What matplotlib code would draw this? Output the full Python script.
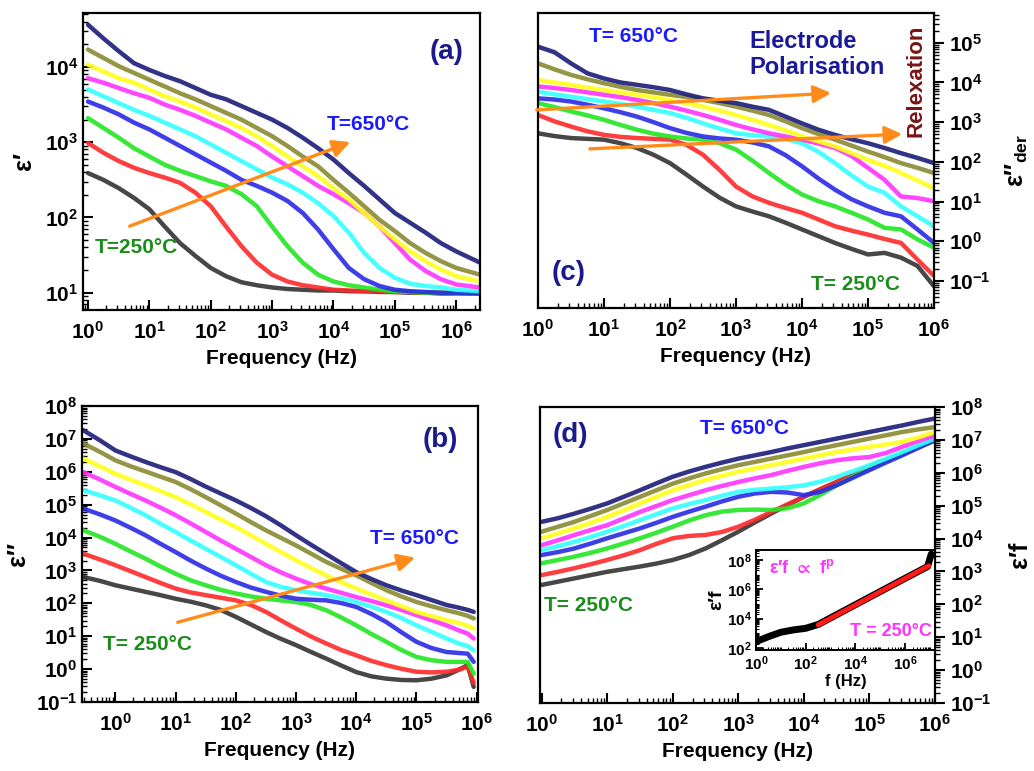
import numpy as np
import matplotlib.pyplot as plt
from matplotlib.ticker import LogLocator, NullFormatter, FixedLocator

plt.rcParams['font.family'] = ['Liberation Sans', 'DejaVu Sans']
plt.rcParams['font.weight'] = 'bold'
plt.rcParams['axes.labelweight'] = 'bold'
plt.rcParams['mathtext.default'] = 'regular'

# temperatures (deg C) and curve colours, low -> high
temps = [250, 300, 350, 400, 450, 500, 550, 600, 650]
colors = ['#333333', '#ff2a2a', '#22e622', '#2a2ae6', '#33ffff',
          '#ff33ff', '#ffff1a', '#8a8a32', '#1c1c7a']

# all values below are log10 values
# (a) eps' vs frequency
logf_a = [0, 0.25, 0.5, 0.75, 1, 1.25, 1.5, 1.75, 2, 2.25, 2.5, 2.75, 3,
          3.25, 3.5, 3.75, 4, 4.25, 4.5, 4.75, 5, 5.25, 5.5, 5.75, 6, 6.39]
eps_real = [
    [2.59, 2.50, 2.39, 2.26, 2.11, 1.88, 1.66, 1.49, 1.33, 1.22, 1.14, 1.10, 1.07,
     1.05, 1.04, 1.03, 1.03, 1.02, 1.02, 1.01, 1.01, 1.00, 1.00, 0.99, 0.99, 0.99],
    [2.99, 2.86, 2.75, 2.66, 2.59, 2.53, 2.46, 2.33, 2.15, 1.88, 1.62, 1.40, 1.24,
     1.15, 1.10, 1.07, 1.04, 1.03, 1.02, 1.02, 1.01, 1.01, 1.00, 1.00, 0.99, 0.99],
    [3.32, 3.19, 3.06, 2.92, 2.81, 2.70, 2.62, 2.55, 2.48, 2.42, 2.31, 2.15, 1.88,
     1.62, 1.40, 1.24, 1.15, 1.10, 1.07, 1.04, 1.02, 1.01, 1.00, 1.00, 0.99, 0.99],
    [3.54, 3.46, 3.37, 3.26, 3.17, 3.06, 2.95, 2.84, 2.73, 2.62, 2.50, 2.42, 2.33,
     2.22, 2.06, 1.84, 1.58, 1.33, 1.18, 1.09, 1.04, 1.02, 1.01, 1.00, 1.00, 0.99],
    [3.70, 3.61, 3.52, 3.43, 3.35, 3.26, 3.17, 3.08, 2.97, 2.86, 2.75, 2.64, 2.53,
     2.44, 2.33, 2.19, 2.02, 1.80, 1.53, 1.33, 1.20, 1.12, 1.09, 1.07, 1.04, 1.02],
    [3.85, 3.79, 3.72, 3.65, 3.59, 3.50, 3.43, 3.35, 3.26, 3.17, 3.06, 2.95, 2.81,
     2.68, 2.55, 2.42, 2.31, 2.19, 2.06, 1.88, 1.66, 1.44, 1.29, 1.18, 1.11, 1.07],
    [4.03, 3.94, 3.85, 3.79, 3.70, 3.61, 3.54, 3.46, 3.37, 3.28, 3.19, 3.08, 2.95,
     2.81, 2.68, 2.55, 2.39, 2.24, 2.06, 1.88, 1.71, 1.55, 1.42, 1.31, 1.22, 1.15],
    [4.23, 4.12, 4.01, 3.92, 3.83, 3.74, 3.65, 3.57, 3.48, 3.39, 3.30, 3.19, 3.08,
     2.95, 2.81, 2.68, 2.50, 2.33, 2.15, 1.97, 1.82, 1.66, 1.53, 1.42, 1.33, 1.24],
    [4.56, 4.38, 4.21, 4.05, 3.96, 3.88, 3.81, 3.72, 3.63, 3.57, 3.48, 3.39, 3.30,
     3.19, 3.06, 2.92, 2.77, 2.59, 2.42, 2.24, 2.06, 1.93, 1.80, 1.66, 1.55, 1.40],
]

# (b) eps'' vs frequency
logf_b = [-0.53, -0.25, 0, 0.25, 0.5, 0.75, 1, 1.25, 1.5, 1.75, 2, 2.25, 2.5, 2.75,
          3, 3.25, 3.5, 3.75, 4, 4.25, 4.5, 4.75, 5, 5.25, 5.5, 5.7, 5.85, 5.95]
eps_imag = [
    [2.80, 2.68, 2.55, 2.45, 2.35, 2.25, 2.14, 2.05, 1.94, 1.80, 1.59, 1.36, 1.13, 0.92,
     0.73, 0.52, 0.32, 0.11, -0.09, -0.22, -0.29, -0.33, -0.34, -0.29, -0.19, -0.02, 0.12, -0.54],
    [3.51, 3.33, 3.16, 2.98, 2.80, 2.62, 2.45, 2.33, 2.25, 2.17, 2.09, 1.95, 1.74, 1.48,
     1.23, 0.99, 0.78, 0.58, 0.42, 0.25, 0.12, 0.01, -0.08, -0.10, -0.08, -0.02, 0.07, -0.42],
    [4.22, 4.02, 3.81, 3.58, 3.36, 3.12, 2.90, 2.70, 2.55, 2.41, 2.30, 2.21, 2.14, 2.09,
     2.04, 1.95, 1.79, 1.57, 1.33, 1.07, 0.83, 0.58, 0.37, 0.27, 0.22, 0.22, 0.22, -0.14],
    [4.88, 4.70, 4.52, 4.30, 4.07, 3.81, 3.56, 3.30, 3.06, 2.84, 2.65, 2.48, 2.35, 2.23,
     2.14, 2.11, 2.09, 2.01, 1.89, 1.68, 1.43, 1.12, 0.83, 0.64, 0.52, 0.49, 0.47, 0.22],
    [5.44, 5.28, 5.13, 4.91, 4.68, 4.42, 4.17, 3.91, 3.66, 3.41, 3.16, 2.90, 2.65, 2.50,
     2.40, 2.32, 2.25, 2.16, 2.04, 1.90, 1.74, 1.55, 1.33, 1.13, 0.93, 0.78, 0.70, 0.57],
    [5.99, 5.76, 5.54, 5.33, 5.13, 4.91, 4.68, 4.43, 4.17, 3.91, 3.66, 3.41, 3.16, 2.94,
     2.75, 2.58, 2.45, 2.32, 2.19, 2.07, 1.94, 1.80, 1.64, 1.49, 1.33, 1.18, 1.08, 0.93],
    [6.40, 6.16, 5.94, 5.76, 5.59, 5.41, 5.23, 5.01, 4.78, 4.55, 4.32, 4.07, 3.81, 3.56,
     3.31, 3.07, 2.85, 2.64, 2.45, 2.27, 2.09, 1.91, 1.74, 1.61, 1.49, 1.40, 1.32, 1.23],
    [6.86, 6.60, 6.35, 6.17, 6.01, 5.85, 5.69, 5.47, 5.23, 4.98, 4.73, 4.47, 4.22, 3.99,
     3.76, 3.51, 3.26, 3.05, 2.85, 2.62, 2.40, 2.21, 2.04, 1.91, 1.79, 1.70, 1.62, 1.54],
    [7.26, 6.95, 6.65, 6.47, 6.30, 6.14, 5.99, 5.78, 5.55, 5.34, 5.13, 4.90, 4.65, 4.37,
     4.07, 3.78, 3.50, 3.22, 2.95, 2.74, 2.55, 2.39, 2.25, 2.10, 1.95, 1.87, 1.80, 1.74],
]

# (c) eps''_der vs frequency
logf_c = [0, 0.25, 0.5, 0.75, 1, 1.25, 1.5, 1.75, 2, 2.25, 2.5, 2.75, 3,
          3.25, 3.5, 3.75, 4, 4.25, 4.5, 4.75, 5, 5.25, 5.5, 5.75, 6]
eps_der = [
    [2.72, 2.65, 2.60, 2.58, 2.56, 2.47, 2.35, 2.18, 1.97, 1.68, 1.38, 1.10, 0.88,
     0.75, 0.63, 0.47, 0.30, 0.13, -0.04, -0.19, -0.33, -0.29, -0.41, -0.62, -1.13],
    [3.18, 3.02, 2.89, 2.77, 2.68, 2.63, 2.60, 2.58, 2.56, 2.43, 2.18, 1.80, 1.38,
     1.13, 0.97, 0.84, 0.72, 0.55, 0.38, 0.27, 0.17, 0.06, -0.04, -0.46, -0.87],
    [3.48, 3.38, 3.27, 3.17, 3.06, 2.93, 2.81, 2.71, 2.64, 2.59, 2.56, 2.47, 2.31,
     2.03, 1.72, 1.43, 1.18, 1.01, 0.88, 0.72, 0.55, 0.34, 0.30, 0.05, -0.16],
    [3.60, 3.57, 3.52, 3.44, 3.35, 3.25, 3.14, 3.00, 2.85, 2.73, 2.64, 2.59, 2.56,
     2.49, 2.39, 2.17, 1.89, 1.58, 1.30, 1.06, 0.88, 0.72, 0.63, 0.30, -0.04],
    [3.77, 3.70, 3.64, 3.58, 3.52, 3.46, 3.39, 3.31, 3.23, 3.11, 2.97, 2.84, 2.72,
     2.67, 2.64, 2.58, 2.47, 2.25, 1.97, 1.66, 1.38, 1.22, 0.88, 0.63, 0.38],
    [3.90, 3.86, 3.81, 3.75, 3.69, 3.63, 3.56, 3.48, 3.39, 3.29, 3.18, 3.06, 2.93,
     2.82, 2.72, 2.64, 2.56, 2.46, 2.35, 2.15, 1.85, 1.55, 1.13, 1.09, 1.01],
    [4.06, 4.00, 3.94, 3.87, 3.81, 3.75, 3.69, 3.63, 3.56, 3.48, 3.39, 3.29, 3.18,
     3.06, 2.93, 2.79, 2.64, 2.52, 2.39, 2.22, 2.05, 1.90, 1.72, 1.53, 1.34],
    [4.48, 4.33, 4.19, 4.08, 3.98, 3.89, 3.81, 3.75, 3.69, 3.63, 3.56, 3.48, 3.39,
     3.29, 3.18, 3.02, 2.85, 2.70, 2.56, 2.41, 2.26, 2.12, 1.97, 1.85, 1.72],
    [4.90, 4.76, 4.48, 4.23, 4.10, 4.00, 3.94, 3.88, 3.81, 3.70, 3.60, 3.54, 3.48,
     3.39, 3.31, 3.14, 2.97, 2.81, 2.68, 2.57, 2.47, 2.35, 2.22, 2.10, 1.97],
]

# (d) eps' * f vs frequency
logf_d = [0, 0.25, 0.5, 0.75, 1, 1.25, 1.5, 1.75, 2, 2.25, 2.5, 2.75, 3,
          3.25, 3.5, 3.75, 4, 4.25, 4.5, 4.75, 5, 5.25, 5.5, 5.75, 6]
eps_f = [
    [2.59, 2.69, 2.79, 2.89, 2.99, 3.07, 3.15, 3.24, 3.35, 3.50, 3.70, 3.95, 4.21,
     4.49, 4.76, 5.02, 5.27, 5.50, 5.72, 5.95, 6.18, 6.38, 6.58, 6.79, 6.99],
    [2.89, 2.99, 3.10, 3.22, 3.35, 3.49, 3.65, 3.84, 4.01, 4.08, 4.11, 4.20, 4.36,
     4.57, 4.81, 5.04, 5.27, 5.50, 5.72, 5.95, 6.18, 6.38, 6.58, 6.79, 6.99],
    [3.25, 3.35, 3.45, 3.57, 3.70, 3.85, 4.01, 4.18, 4.36, 4.55, 4.71, 4.82, 4.87,
     4.88, 4.87, 4.92, 5.07, 5.33, 5.62, 5.88, 6.13, 6.36, 6.58, 6.79, 6.99],
    [3.50, 3.59, 3.70, 3.85, 4.01, 4.16, 4.31, 4.48, 4.66, 4.82, 4.97, 5.13, 5.27,
     5.37, 5.42, 5.40, 5.32, 5.42, 5.62, 5.85, 6.08, 6.31, 6.53, 6.76, 6.99],
    [3.65, 3.77, 3.90, 4.05, 4.21, 4.38, 4.56, 4.74, 4.92, 5.05, 5.17, 5.30, 5.42,
     5.48, 5.52, 5.56, 5.62, 5.73, 5.88, 6.05, 6.23, 6.43, 6.63, 6.84, 7.04],
    [3.80, 3.95, 4.11, 4.26, 4.41, 4.61, 4.81, 4.99, 5.17, 5.32, 5.47, 5.60, 5.72,
     5.83, 5.93, 6.06, 6.18, 6.29, 6.38, 6.44, 6.48, 6.60, 6.79, 6.97, 7.14],
    [4.01, 4.16, 4.31, 4.48, 4.66, 4.86, 5.07, 5.27, 5.47, 5.63, 5.78, 5.91, 6.03,
     6.13, 6.23, 6.33, 6.43, 6.53, 6.63, 6.71, 6.79, 6.86, 6.94, 7.08, 7.24],
    [4.21, 4.36, 4.51, 4.69, 4.87, 5.07, 5.27, 5.47, 5.67, 5.83, 5.98, 6.11, 6.23,
     6.33, 6.43, 6.53, 6.63, 6.74, 6.84, 6.94, 7.04, 7.14, 7.24, 7.32, 7.39],
    [4.51, 4.62, 4.76, 4.91, 5.07, 5.27, 5.47, 5.68, 5.88, 6.04, 6.18, 6.31, 6.43,
     6.53, 6.63, 6.74, 6.84, 6.94, 7.04, 7.14, 7.24, 7.34, 7.44, 7.55, 7.65],
]

# inset: T = 250 C with power-law fit
logf_in = [0, 0.5, 1, 1.5, 2, 2.5, 3, 4, 5, 6, 6.9, 7.05]
epsf_in = [2.43, 2.77, 3.07, 3.23, 3.34, 3.60, 4.05, 4.95, 5.85, 6.75, 7.55, 8.40]
logf_fit = [2.5, 6.95]
epsf_fit = [3.57, 7.60]

# decade ticks shown on each panel (exponents)
xdec = list(range(0, 7))
ydec_a = list(range(1, 5))
ydec_b = list(range(-1, 9))
ydec_c = list(range(-1, 6))
ydec_d = list(range(-1, 9))

orange = '#ff8c1a'
W, H = 1034, 771
fig = plt.figure(figsize=(W / 100, H / 100), dpi=100)


def box(x0, y0, x1, y1):
    return [x0 / W, 1 - y1 / H, (x1 - x0) / W, (y1 - y0) / H]


def style(ax, ydec, right=False, fs=15):
    ax.set_xscale('log')
    ax.set_yscale('log')
    for s in ax.spines.values():
        s.set_linewidth(1.6)
    ax.xaxis.set_major_locator(FixedLocator([10.0 ** e for e in xdec]))
    ax.yaxis.set_major_locator(FixedLocator([10.0 ** e for e in ydec]))
    for axis in (ax.xaxis, ax.yaxis):
        axis.set_minor_locator(LogLocator(base=10, subs=np.arange(2, 10), numticks=200))
        axis.set_minor_formatter(NullFormatter())
    ax.tick_params(axis='x', which='both', direction='in', top=False, labelsize=fs, pad=8)
    ax.tick_params(which='major', length=7, width=1.5)
    ax.tick_params(which='minor', length=3.5, width=1.0)
    if right:
        ax.yaxis.tick_right()
        ax.yaxis.set_label_position('right')
        ax.tick_params(axis='y', which='both', direction='out', left=False, labelsize=fs)
    else:
        ax.tick_params(axis='y', which='both', direction='in', right=False, labelsize=fs)


def curves(ax, logf, data, lw=3.2):
    f = 10 ** np.array(logf)
    for vals, c in zip(data, colors):
        ax.plot(f, 10 ** np.array(vals), color=c, lw=lw, solid_capstyle='round',
                solid_joinstyle='round', alpha=0.9)


def arrow(ax, p0, p1):
    ax.annotate('', xy=p1, xytext=p0, xycoords='axes fraction', textcoords='axes fraction',
                arrowprops=dict(arrowstyle='-|>', color=orange, lw=2.4, mutation_scale=26),
                annotation_clip=False)


def label(ax, x, y, s, color, fs=15, **kw):
    ax.text(x, y, s, transform=ax.transAxes, color=color, fontsize=fs,
            fontweight='bold', **kw)


# ---- (a)
ax_a = fig.add_axes(box(83, 13, 480, 310))
style(ax_a, ydec_a)
curves(ax_a, logf_a, eps_real)
ax_a.set_xlim(0.83, 2.45e6)
ax_a.set_ylim(5.9, 5.2e4)
ax_a.set_xlabel('Frequency (Hz)', fontsize=15, labelpad=4)
ax_a.set_ylabel('ε′', fontsize=18, labelpad=6)
label(ax_a, 0.915, 0.87, '(a)', '#1a1a8c', fs=20, ha='center', va='center')
label(ax_a, 0.615, 0.623, 'T=650°C', '#1a1aff', va='center')
label(ax_a, 0.03, 0.209, 'T=250°C', '#1a8c1a', va='center')
arrow(ax_a, (0.111, 0.279), (0.68, 0.569))

# ---- (b)
ax_b = fig.add_axes(box(82, 406, 478, 702))
style(ax_b, ydec_b)
curves(ax_b, logf_b, eps_imag)
ax_b.set_xlim(0.28, 1.05e6)
ax_b.set_ylim(0.1, 1e8)
ax_b.set_xlabel('Frequency (Hz)', fontsize=15, labelpad=4)
ax_b.set_ylabel('ε′′', fontsize=18, labelpad=4)
label(ax_b, 0.905, 0.885, '(b)', '#1a1a8c', fs=20, ha='center', va='center')
label(ax_b, 0.727, 0.554, 'T= 650°C', '#1a1aff', va='center')
label(ax_b, 0.053, 0.193, 'T= 250°C', '#1a8c1a', va='center')
arrow(ax_b, (0.235, 0.267), (0.848, 0.49))

# ---- (c)
ax_c = fig.add_axes(box(538, 13, 934, 308))
style(ax_c, ydec_c, right=True)
curves(ax_c, logf_c, eps_der)
ax_c.set_xlim(1, 1e6)
ax_c.set_ylim(0.021, 5.6e5)
ax_c.set_xlabel('Frequency (Hz)', fontsize=15, labelpad=4)
ax_c.set_ylabel('ε′′$_{der}$', fontsize=18, labelpad=10)
label(ax_c, 0.129, 0.919, 'T= 650°C', '#1a1aff', va='center')
label(ax_c, 0.535, 0.86, 'Electrode\nPolarisation', '#1a1a99', fs=17,
      va='center', linespacing=1.2)
label(ax_c, 0.955, 0.77, 'Relexation', '#7a1414', fs=16, rotation=90,
      ha='center', va='center')
label(ax_c, 0.078, 0.119, '(c)', '#1a1a8c', fs=20, ha='center', va='center')
label(ax_c, 0.689, 0.078, 'T= 250°C', '#1a8c1a', va='center')
arrow(ax_c, (-0.01, 0.671), (0.747, 0.729))
arrow(ax_c, (0.124, 0.539), (0.927, 0.59))

# ---- (d)
ax_d = fig.add_axes(box(540, 407, 935, 703))
style(ax_d, ydec_d, right=True)
curves(ax_d, logf_d, eps_f)
ax_d.set_xlim(0.94, 1e6)
ax_d.set_ylim(0.1, 1e8)
ax_d.set_xlabel('Frequency (Hz)', fontsize=15, labelpad=4)
ax_d.set_ylabel('ε′f', fontsize=18, labelpad=12)
label(ax_d, 0.076, 0.905, '(d)', '#1a1a8c', fs=20, ha='center', va='center')
label(ax_d, 0.405, 0.929, 'T= 650°C', '#1a1aff', va='center')
label(ax_d, 0.01, 0.331, 'T= 250°C', '#1a8c1a', va='center')

# ---- inset
ax_in = fig.add_axes(box(756, 550, 935, 650))
ax_in.set_xscale('log')
ax_in.set_yscale('log')
for s in ax_in.spines.values():
    s.set_linewidth(1.4)
ax_in.plot(10 ** np.array(logf_in), 10 ** np.array(epsf_in), color='black', lw=5,
           solid_capstyle='round')
ax_in.plot(10 ** np.array(logf_fit), 10 ** np.array(epsf_fit), color='#ff1a1a', lw=3.5,
           solid_capstyle='round')
ax_in.set_xlim(1, 10 ** 7.2)
ax_in.set_ylim(10 ** 1.86, 10 ** 8.68)
ax_in.xaxis.set_major_locator(FixedLocator([1, 1e2, 1e4, 1e6]))
ax_in.yaxis.set_major_locator(FixedLocator([1e2, 1e4, 1e6, 1e8]))
ax_in.xaxis.set_minor_locator(LogLocator(base=10, subs=np.arange(1, 10), numticks=200))
ax_in.yaxis.set_minor_locator(LogLocator(base=10, subs=np.arange(1, 10), numticks=200))
ax_in.xaxis.set_minor_formatter(NullFormatter())
ax_in.yaxis.set_minor_formatter(NullFormatter())
ax_in.tick_params(which='both', direction='in', labelsize=11, pad=3)
ax_in.tick_params(which='major', length=5, width=1.3)
ax_in.tick_params(which='minor', length=2.5, width=0.8)
ax_in.set_xlabel('f (Hz)', fontsize=12, labelpad=1)
ax_in.set_ylabel('ε′f', fontsize=14, labelpad=1)
ax_in.text(0.07, 0.82, 'ε′f $\\propto$ f$^{p}$', transform=ax_in.transAxes,
           color='#ff33ff', fontsize=13, fontweight='bold', va='center')
ax_in.text(0.98, 0.18, 'T = 250°C', transform=ax_in.transAxes,
           color='#ff33ff', fontsize=13, fontweight='bold', ha='right', va='center')

fig.savefig('out.png', dpi=100)
